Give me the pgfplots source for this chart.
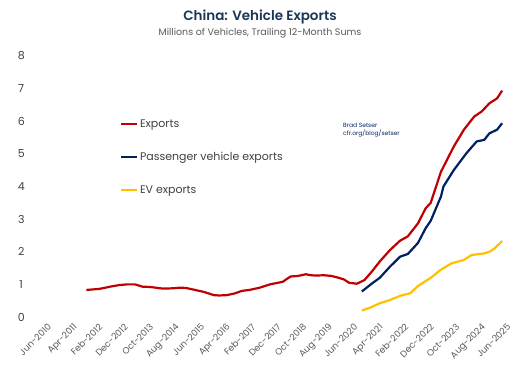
\documentclass[border=0pt]{standalone}
\usepackage{fontspec}
\setmainfont{Poppins}
\newfontfamily\titlefont{Poppins SemiBold}
\usepackage{pgfplots}
\pgfplotsset{compat=1.18}
\definecolor{cred}{HTML}{C00000}
\definecolor{cblue}{HTML}{002060}
\definecolor{cyellow}{HTML}{FFC000}
\definecolor{ctitle}{HTML}{1B3557}
\definecolor{cgray}{HTML}{595959}
\definecolor{cdark}{HTML}{404040}
\begin{document}
\begin{tikzpicture}
\useasboundingbox (-30.25pt,-61pt) rectangle (489.75pt,317pt);
\begin{axis}[
  at={(0,0)}, anchor=south west,
  scale only axis, width=477pt, height=261pt,
  xmin=-5, xmax=182, ymin=0, ymax=8,
  axis x line*=bottom, axis y line*=left,
  axis line style={draw=none}, tick style={draw=none},
  /pgf/number format/assume math mode=true,
  xtick={0,10,...,180},
  xticklabels={Jun-2010,Apr-2011,Feb-2012,Dec-2012,Oct-2013,Aug-2014,Jun-2015,Apr-2016,Feb-2017,Dec-2017,Oct-2018,Aug-2019,Jun-2020,Apr-2021,Feb-2022,Dec-2022,Oct-2023,Aug-2024,Jun-2025},
  x tick label style={rotate=45, anchor=north east, font=\fontsize{9}{10}\selectfont, text=cgray, inner sep=1pt, yshift=-6pt},
  ytick={0,1,...,8},
  y tick label style={font=\fontsize{11}{12}\selectfont, text=cdark, anchor=center, xshift=-9pt},
  legend style={at={(axis cs:29,6.18)}, anchor=north west, draw=none, fill=none,
    font=\fontsize{11}{13}\selectfont, text=cdark, row sep=19.5pt,
    /tikz/every even column/.append style={column sep=0pt}},
  legend cell align=left,
  legend image code/.code={\draw[#1] (0cm,0cm) -- (0.55cm,0cm);},
  clip=false,
]
\addplot[cred, line width=2.2pt, line join=round] coordinates {
(17,0.83) (22,0.86) (27,0.94) (30,0.98) (33,1.0) (36,1.0) (39,0.93) (42,0.92)
(47,0.87) (51,0.88) (54,0.9) (56,0.89) (59,0.84) (63,0.77) (67,0.67) (69,0.66)
(72,0.67) (75,0.72) (78,0.8) (81,0.83) (85,0.9) (89,1.0) (94,1.08) (97,1.24)
(100,1.26) (103,1.31) (105,1.28) (107,1.27) (110,1.28) (113,1.26) (116,1.2)
(118,1.15) (120,1.05) (123,1.02) (126,1.13) (129,1.4) (132,1.7) (136,2.05)
(140,2.34) (143,2.47) (147,2.87) (150,3.33) (152,3.5) (156,4.45) (161,5.22)
(165,5.74) (169,6.14) (172,6.3) (175,6.55) (178,6.7) (180,6.94)
};
\addlegendentry{Exports}
\addplot[cblue, line width=2.2pt, line join=round] coordinates {
(125,0.78) (129,1.03) (132,1.2) (136,1.54) (140,1.85) (143,1.93) (147,2.27)
(150,2.72) (152,2.95) (156,3.69) (157,4.0) (161,4.5) (166,5.02) (170,5.38)
(173,5.43) (175,5.63) (178,5.74) (180,5.94)
};
\addlegendentry{Passenger vehicle exports}
\addplot[cyellow, line width=2.2pt, line join=round] coordinates {
(125,0.2) (128,0.28) (132,0.42) (136,0.52) (140,0.65) (144,0.73) (147,0.95)
(152,1.2) (156,1.45) (160,1.64) (165,1.75) (168,1.9) (173,1.95) (175,2.0)
(177,2.1) (180,2.33)
};
\addlegendentry{EV exports}
\node[anchor=north west, align=left, text=cblue, font=\fontsize{6}{7.5}\selectfont, inner sep=0pt]
  at (axis cs:117.6,5.95) {Brad Setser\\cfr.org/blog/setser};
\end{axis}
\node[text=ctitle, font=\titlefont\fontsize{13.5}{15}\selectfont] at (229.75pt,300pt) {China: Vehicle Exports};
\node[text=cgray, font=\fontsize{9.5}{11}\selectfont] at (229.75pt,284pt) {Millions of Vehicles, Trailing 12-Month Sums};
\end{tikzpicture}
\end{document}
